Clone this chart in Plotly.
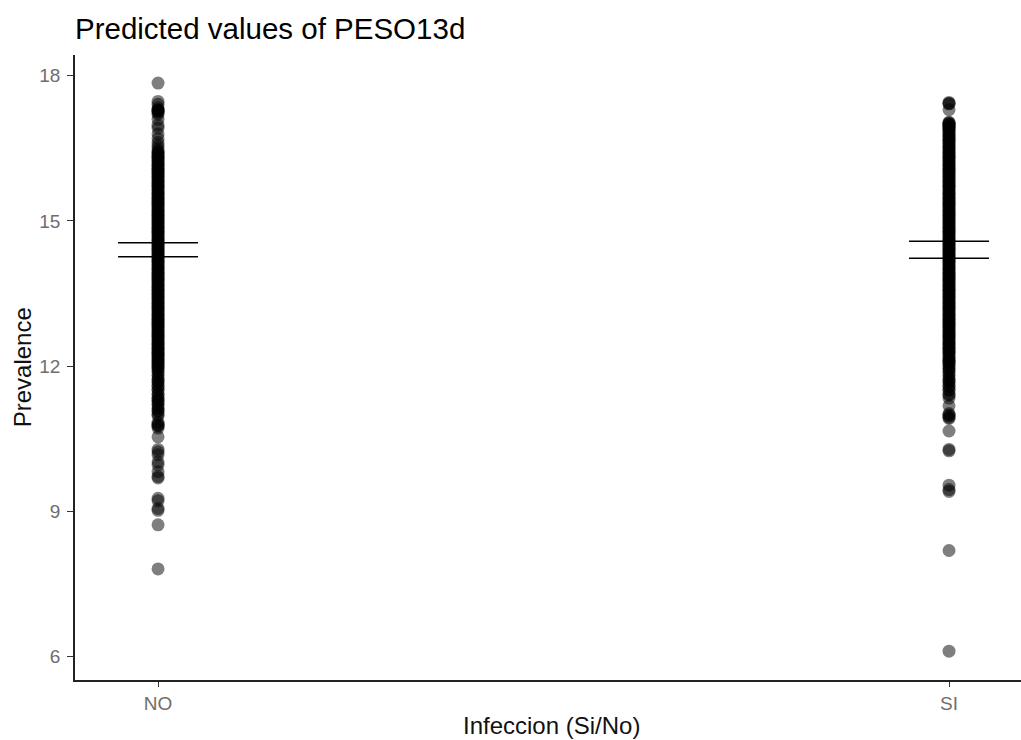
import plotly.graph_objects as go

categories = ["NO", "SI"]
title_text = "Predicted values of PESO13d"
x_title = "Infeccion (Si/No)"
y_title = "Prevalence"
y_ticks = [6, 9, 12, 15, 18]

no_values = [
    7.81, 8.72, 9.02, 9.06, 9.22, 9.27, 9.69, 9.72, 9.82, 9.96, 10.02, 10.17, 10.23, 10.28,
    10.54, 10.72, 10.78, 10.84, 10.98, 11.06, 11.12, 11.2, 11.27, 11.33, 11.41, 11.5, 11.58,
    11.66, 11.72, 11.8, 11.88, 11.95, 12.0, 12.05, 12.1, 12.15, 12.2, 12.25, 12.3, 12.35,
    12.4, 12.45, 12.5, 12.55, 12.6, 12.65, 12.7, 12.75, 12.8, 12.85, 12.9, 12.95, 13.0,
    13.05, 13.1, 13.15, 13.2, 13.25, 13.3, 13.35, 13.4, 13.45, 13.5, 13.55, 13.6, 13.65,
    13.7, 13.75, 13.8, 13.85, 13.9, 13.95, 14.0, 14.05, 14.1, 14.15, 14.2, 14.25, 14.3,
    14.35, 14.4, 14.45, 14.5, 14.55, 14.6, 14.65, 14.7, 14.75, 14.8, 14.85, 14.9, 14.95,
    15.0, 15.05, 15.1, 15.15, 15.2, 15.25, 15.3, 15.35, 15.4, 15.45, 15.5, 15.55, 15.6,
    15.65, 15.7, 15.75, 15.8, 15.85, 15.9, 15.95, 16.0, 16.05, 16.1, 16.15, 16.2, 16.25,
    16.3, 16.35, 16.4, 16.45, 16.5, 16.56, 16.62, 16.7, 16.8, 16.92, 16.98, 17.1, 17.2,
    17.24, 17.28, 17.3, 17.34, 17.41, 17.47, 17.85,
    # further patients read as overlap in the darkest part of the column
    10.76, 10.8, 11.0, 11.08, 11.14, 11.22, 11.29, 11.35, 11.43, 11.52, 11.6, 11.68, 11.74,
    11.82, 11.9, 11.97, 12.03, 12.08, 12.13, 12.18, 12.23, 12.28, 12.33, 12.38, 12.43,
    12.48, 12.53, 12.58, 12.63, 12.68, 12.73, 12.78, 12.83, 12.88, 12.93, 12.98, 13.03,
    13.08, 13.13, 13.18, 13.23, 13.28, 13.33, 13.38, 13.43, 13.48, 13.53, 13.58, 13.63,
    13.68, 13.73, 13.78, 13.83, 13.88, 13.93, 13.98, 14.03, 14.08, 14.13, 14.18, 14.23,
    14.28, 14.33, 14.38, 14.43, 14.48, 14.53, 14.58, 14.63, 14.68, 14.73, 14.78, 14.83,
    14.88, 14.93, 14.98, 15.03, 15.08, 15.13, 15.18, 15.23, 15.28, 15.33, 15.38, 15.43,
    15.48, 15.53, 15.58, 15.63, 15.68, 15.73, 15.78, 15.83, 15.88, 15.93, 15.98, 16.03,
    16.08, 16.13, 16.18, 16.23, 16.28, 16.33, 16.38, 16.43, 17.26, 17.29,
]
si_values = [
    6.11, 8.19, 9.41, 9.45, 9.54, 10.25, 10.28, 10.66, 10.94, 10.97, 11.02, 11.18, 11.34,
    11.4, 11.5, 11.58, 11.66, 11.72, 11.8, 11.88, 11.95, 12.02, 12.08, 12.12, 12.18, 12.25,
    12.3, 12.35, 12.4, 12.45, 12.5, 12.55, 12.6, 12.65, 12.7, 12.75, 12.8, 12.85, 12.9,
    12.95, 13.0, 13.05, 13.1, 13.15, 13.2, 13.25, 13.3, 13.35, 13.4, 13.45, 13.5, 13.55,
    13.6, 13.65, 13.7, 13.75, 13.8, 13.85, 13.9, 13.95, 14.0, 14.05, 14.1, 14.15, 14.2,
    14.25, 14.3, 14.35, 14.4, 14.45, 14.5, 14.55, 14.6, 14.65, 14.7, 14.75, 14.8, 14.85,
    14.9, 14.95, 15.0, 15.05, 15.1, 15.15, 15.2, 15.25, 15.3, 15.35, 15.4, 15.45, 15.5,
    15.55, 15.6, 15.65, 15.7, 15.75, 15.8, 15.85, 15.9, 15.95, 16.0, 16.05, 16.1, 16.15,
    16.2, 16.25, 16.3, 16.35, 16.4, 16.45, 16.5, 16.55, 16.6, 16.65, 16.7, 16.75, 16.8,
    16.85, 16.9, 16.94, 16.98, 17.01, 17.04, 17.3, 17.42, 17.45,
    # further patients read as overlap in the darkest part of the column
    10.92, 10.99, 11.42, 11.52, 11.6, 11.68, 11.74, 11.82, 11.9, 11.97, 12.04, 12.1, 12.15,
    12.2, 12.27, 12.33, 12.38, 12.43, 12.48, 12.53, 12.58, 12.63, 12.68, 12.73, 12.78,
    12.83, 12.88, 12.93, 12.98, 13.03, 13.08, 13.13, 13.18, 13.23, 13.28, 13.33, 13.38,
    13.43, 13.48, 13.53, 13.58, 13.63, 13.68, 13.73, 13.78, 13.83, 13.88, 13.93, 13.98,
    14.03, 14.08, 14.13, 14.18, 14.23, 14.28, 14.33, 14.38, 14.43, 14.48, 14.53, 14.58,
    14.63, 14.68, 14.73, 14.78, 14.83, 14.88, 14.93, 14.98, 15.03, 15.08, 15.13, 15.18,
    15.23, 15.28, 15.33, 15.38, 15.43, 15.48, 15.53, 15.58, 15.63, 15.68, 15.73, 15.78,
    15.83, 15.88, 15.93, 15.98, 16.03, 16.08, 16.13, 16.18, 16.23, 16.28, 16.33, 16.38,
    16.43, 16.48, 16.53, 16.58, 16.63, 16.68, 16.73, 16.78, 16.83, 16.88, 16.92, 16.96,
    17.0, 17.03, 17.43,
]
means = [14.405, 14.405]
half_ci = [0.145, 0.175]

fig = go.Figure()
for cat, vals in zip(categories, [no_values, si_values]):
    fig.add_trace(go.Scatter(
        x=[cat] * len(vals), y=vals, mode="markers", showlegend=False,
        marker=dict(color="rgba(0,0,0,0.5)", size=13, line=dict(width=0)),
    ))
fig.add_trace(go.Scatter(
    x=categories, y=means, mode="markers", showlegend=False,
    marker=dict(size=1, color="rgba(0,0,0,0)"),
    error_y=dict(type="data", array=half_ci, symmetric=True, color="black", thickness=1.4, width=40),
))

font = "Liberation Sans, Arial, sans-serif"
fig.update_layout(
    width=1021, height=740, autosize=False,
    margin=dict(l=74.5, r=0, t=55, b=59.5, pad=0),
    paper_bgcolor="white", plot_bgcolor="white",
    title=dict(text=title_text, x=75 / 1021, xanchor="left", y=1 - 29 / 740, yanchor="middle",
               font=dict(family=font, size=29.5, color="black")),
    xaxis=dict(
        type="category", range=[-0.105, 1.091],
        showgrid=False, zeroline=False, showline=True, linecolor="#222222", linewidth=1.5,
        ticks="outside", ticklen=5, tickwidth=1.3, tickcolor="#333333",
        tickfont=dict(family=font, size=19, color="#6E6E6E"),
        title=dict(text=""),
    ),
    yaxis=dict(
        range=[5.514, 18.43], tickvals=y_ticks, ticklabelstandoff=3,
        showgrid=False, zeroline=False, showline=True, linecolor="#222222", linewidth=1.5,
        ticks="outside", ticklen=6, tickwidth=1.3, tickcolor="#333333",
        tickfont=dict(family=font, size=19, color="#6E6E6E"),
        title=dict(text=""),
    ),
    annotations=[
        dict(text=x_title, xref="paper", yref="paper", x=(551.5 - 74.5) / 946.5, xanchor="center",
             y=(680.5 - 726) / 625.5, yanchor="middle", showarrow=False,
             font=dict(family=font, size=24, color="#111111")),
        dict(text=y_title, textangle=-90, xref="paper", yref="paper", x=(22 - 74.5) / 946.5,
             xanchor="center", y=(680.5 - 368) / 625.5, yanchor="middle", showarrow=False,
             font=dict(family=font, size=24, color="#111111")),
    ],
)
fig.write_html("out.html", post_script="document.body.style.margin='0';",
               config=dict(displayModeBar=False))
